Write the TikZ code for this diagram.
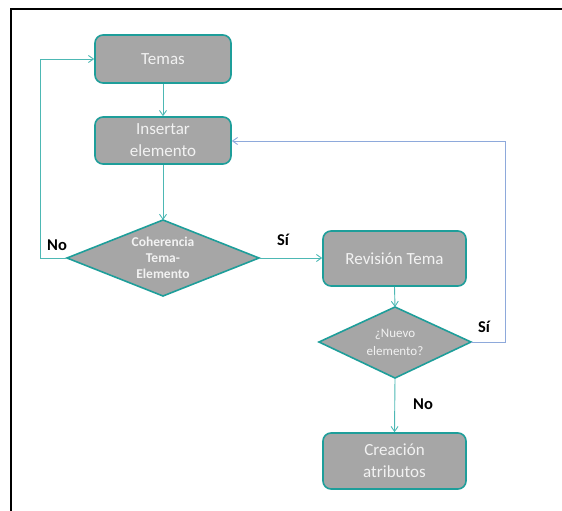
\documentclass[tikz,border=0pt]{standalone}
\usepackage{fontspec}
\setmainfont{Carlito}
\usetikzlibrary{shapes.geometric,arrows.meta}
\definecolor{boxfill}{HTML}{A6A6A6}
\definecolor{boxline}{HTML}{1E9E9A}
\definecolor{arrowc}{HTML}{4DB8B4}
\definecolor{bluec}{HTML}{8EA9DB}
\definecolor{txtc}{HTML}{F2F2F2}
\tikzset{
  procbox/.style={draw=boxline, line width=1.6pt, fill=boxfill, rounded corners=8pt,
    text=txtc, align=center, font=\fontsize{17}{22}\selectfont, anchor=center},
  decis/.style={draw=boxline, line width=1.6pt, fill=boxfill},
  conn/.style={draw=arrowc, line width=0.9pt, -{Straight Barb[length=5pt,width=7pt]}},
  bconn/.style={draw=bluec, line width=0.9pt, -{Straight Barb[length=5pt,width=7pt]}},
  lbl/.style={font=\bfseries\fontsize{16.5}{18}\selectfont, text=black}
}
\begin{document}
\begin{tikzpicture}[x=1pt,y=-1pt]
\useasboundingbox (0,0) rectangle (562,511);
\draw[line width=2.2pt, black] (11,511) -- (11,9) -- (562,9);
\node[procbox, minimum width=136pt, minimum height=48pt] (temas) at (163,59) {Temas};
\node[procbox, minimum width=136pt, minimum height=47pt] (ins) at (163,140.5) {Insertar\\elemento};
\node[procbox, minimum width=143pt, minimum height=55pt] (rev) at (394.5,258.5) {Revisión Tema};
\node[procbox, minimum width=143pt, minimum height=56pt] (crea) at (394.5,461) {Creación\\atributos};
\draw[decis] (163,220) -- (259,258) -- (163,296) -- (67,258) -- cycle;
\node[font=\fontsize{13.5}{16}\selectfont\bfseries, text=txtc, align=center] (coh) at (163,258) {Coherencia\\Tema-\\Elemento};
\draw[decis] (395,307) -- (471,342) -- (395,378) -- (319,342) -- cycle;
\node[font=\fontsize{13}{18}\selectfont, text=txtc, align=center] (nue) at (395,342) {¿Nuevo\\elemento?};
\coordinate (cT) at (163,220);
\coordinate (cL) at (67,258);
\coordinate (cR) at (259,258);
\coordinate (nT) at (395,307);
\coordinate (nR) at (471,342);
\coordinate (nB) at (395,378);
\draw[conn] (temas.south) -- (ins.north);
\draw[conn] (ins.south) -- (cT);
\draw[conn] (cL) -- (40,258) -- (40,59) -- (temas.west);
\draw[conn] (cR) -- (rev.west |- cR);
\draw[conn] (rev.south) -- (nT);
\draw[conn] (nB) -- (crea.north);
\draw[bconn] (nR) -- (505,342) -- (505,141) -- (ins.east |- 0,141);
\node[lbl] (no1) at (57,245) {No};
\node[lbl] (si1) at (283,240) {Sí};
\node[lbl] (si2) at (484,327) {Sí};
\node[lbl] (no2) at (423,404) {No};
\end{tikzpicture}
\end{document}
